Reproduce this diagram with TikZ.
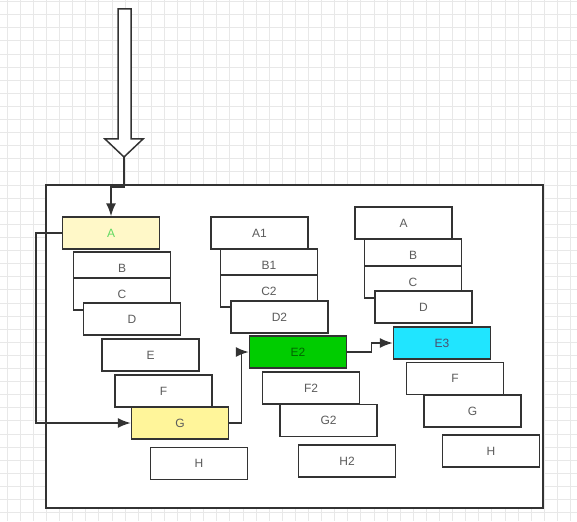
\documentclass[tikz,border=0pt]{standalone}
\usepackage{fontspec}
\setmainfont{Liberation Sans}
\usetikzlibrary{arrows.meta}
\definecolor{paleyellow}{HTML}{FFF8C8}
\definecolor{gyellow}{HTML}{FFF59A}
\definecolor{egreen}{HTML}{00CC00}
\definecolor{ecyan}{HTML}{20E5FF}
\definecolor{ink}{HTML}{333333}

\begin{document}
\begin{tikzpicture}[x=1pt, y=-1pt,
    box/.style={draw=ink, line width=1.5pt, fill=white, minimum width=97pt, minimum height=32pt,
        inner sep=0pt, font=\fontsize{12}{14}\selectfont, text=ink!80},
    link/.style={draw=ink, line width=1.5pt, -{Latex[length=13pt,width=10pt]}},
    gridline/.style={gray!18, line width=0.6pt}]
    \useasboundingbox (0,0) rectangle (577,521);
    \fill[white] (0,0) rectangle (577,521);
    \foreach \gx in {7,20.1,...,577} \draw[gridline] (\gx,0) -- (\gx,521);
    \foreach \gy in {1.5,14.6,...,521} \draw[gridline] (0,\gy) -- (577,\gy);

    % frame
    \draw[ink, line width=1.5pt, fill=white] (46,185) rectangle (543,508);

    % hollow input arrow
    \draw[ink, line width=1.5pt, fill=white, line join=miter]
        (118,9) -- (131,9) -- (131,139) -- (143,139) -- (124,157) -- (105,139) -- (118,139) -- cycle;
    \coordinate (tip) at (124,157);

    % first column
    \node[box, fill=paleyellow, text=green!55!white!85!black] (a) at (111,233) {A};
    \node[box] (b) at (122,268) {B};
    \node[box] (c) at (122,294) {C};
    \node[box] (d) at (132,319) {D};
    \node[box] (e) at (150.5,355) {E};
    \node[box] (f) at (163.5,391) {F};
    \node[box, fill=gyellow] (g) at (180,423) {G};
    \node[box] (h) at (199,463.5) {H};

    % second column
    \node[box] (a1) at (259.5,233) {A1};
    \node[box] (b1) at (269,265) {B1};
    \node[box] (c2) at (269,291) {C2};
    \node[box] (d2) at (279.5,317) {D2};
    \node[box, fill=egreen, text=green!40!black] (e2) at (298,352) {E2};
    \node[box] (f2) at (311,388) {F2};
    \node[box] (g2) at (328.5,420.5) {G2};
    \node[box] (h2) at (347,461) {H2};

    % third column
    \node[box] (a3) at (403.7,223) {A};
    \node[box] (b3) at (413,255) {B};
    \node[box] (c3) at (413,282) {C};
    \node[box] (d3) at (423.5,307) {D};
    \node[box, fill=ecyan, text=cyan!30!blue!45!black] (e3) at (442,343) {E3};
    \node[box] (f3) at (455,378.5) {F};
    \node[box] (g3) at (472.5,411) {G};
    \node[box] (h3) at (491,451) {H};

    % links
    \draw[link] (tip) -- ++(0,30) -| (a.north);
    \draw[link] (a.west) -- ++(-26,0) |- (g.west);
    \draw[link] (g.east) -- ++(12,0) |- (e2.west);
    \draw[link] (e2.east) -- ++(24,0) |- (e3.west);
\end{tikzpicture}
\end{document}
